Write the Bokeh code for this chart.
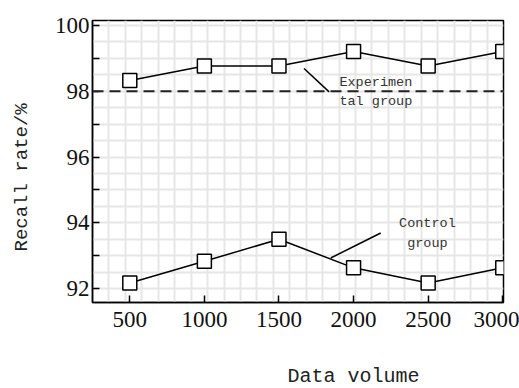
from bokeh.plotting import figure
from bokeh.models import FixedTicker, Range1d, Label, Span, Title, LinearAxis
from bokeh.embed import file_html
from bokeh.resources import INLINE
import numpy as np

# ---- data ----
data_volume = [500, 1000, 1500, 2000, 2500, 3000]
experimental_group = [98.33, 98.77, 98.77, 99.21, 98.77, 99.21]
control_group = [92.17, 92.83, 93.5, 92.63, 92.17, 92.63]
baseline_rate = 98.0
y_major_ticks = [92, 94, 96, 98, 100]
y_minor_ticks = [93, 95, 97, 99]
x_title = "Data volume"
y_title = "Recall rate/%"
exp_label = ["Experimen", "tal group"]
ctrl_label = ["Control", "group"]

X0, X1 = 250, 3005
Y0, Y1 = 91.576, 100.152

p = figure(width=519, height=388, output_backend="svg", toolbar_location=None,
           x_range=Range1d(X0, X1), y_range=Range1d(Y0, Y1),
           min_border_left=92, min_border_right=16, min_border_top=20,
           min_border_bottom=85)
p.background_fill_color = "white"
p.border_fill_color = "white"
p.outline_line_color = "black"
p.outline_line_width = 1.5

# light square grid
p.xgrid.ticker = FixedTicker(ticks=[float(v) for v in np.linspace(X0, X1, 26)[1:-1]])
p.ygrid.ticker = FixedTicker(ticks=[float(v) for v in np.arange(92, 100.01, 0.5)])
p.xgrid.grid_line_color = "#e6e6e6"
p.ygrid.grid_line_color = "#e6e6e6"
p.xgrid.grid_line_width = 2
p.ygrid.grid_line_width = 2

p.xaxis.ticker = FixedTicker(ticks=data_volume)
p.yaxis.ticker = FixedTicker(ticks=y_major_ticks, minor_ticks=y_minor_ticks)
for ax in (p.xaxis[0], p.yaxis[0]):
    ax.axis_line_color = "black"
    ax.axis_line_width = 1.5
    ax.major_tick_in = 7
    ax.major_tick_out = 0
    ax.minor_tick_in = 7
    ax.minor_tick_out = 0
    ax.major_tick_line_width = 1.5
    ax.minor_tick_line_width = 1.5
    ax.major_label_text_font = "Liberation Serif"
    ax.major_label_text_font_size = "23px"
    ax.major_label_text_color = "#111111"
p.yaxis.major_label_standoff = 3
p.xaxis.major_label_standoff = 9


def spacer(size, where):
    # a blank axis (white tick on white border, no labels, no line) that only reserves space
    return LinearAxis(ticker=FixedTicker(ticks=[where]), axis_line_color=None,
                      major_tick_line_color="white", major_tick_line_width=1,
                      minor_tick_line_color=None, major_tick_in=0, major_tick_out=size,
                      minor_tick_in=0, minor_tick_out=0, major_label_standoff=0,
                      major_label_text_color=None)


# baseline dashed line
p.add_layout(Span(location=baseline_rate, dimension="width", line_color="#222222",
                  line_width=1.8, line_dash="11 6"))

# series
for ys in (experimental_group, control_group):
    p.line(data_volume, ys, line_color="black", line_width=1.5)
    p.scatter(data_volume, ys, marker="square", size=14, fill_color="white",
              line_color="black", line_width=1.5)

# leader lines
p.line([1668, 1836], [98.69, 97.98], line_color="black", line_width=1.5)
p.line([1847, 2182], [92.93, 93.69], line_color="black", line_width=1.5)

mono = "Liberation Mono"
p.add_layout(Label(x=1905, y=98.28, text=exp_label[0], text_font=mono, text_font_size="13.5px",
                   text_align="left", text_baseline="middle", text_color="#333333"))
p.add_layout(Label(x=1905, y=97.68, text=exp_label[1], text_font=mono, text_font_size="13.5px",
                   text_align="left", text_baseline="middle", text_color="#333333"))
p.add_layout(Label(x=2495, y=93.99, text=ctrl_label[0], text_font=mono, text_font_size="13.5px",
                   text_align="center", text_baseline="middle", text_color="#333333"))
p.add_layout(Label(x=2495, y=93.38, text=ctrl_label[1], text_font=mono, text_font_size="13.5px",
                   text_align="center", text_baseline="middle", text_color="#333333"))

# axis titles (placed with spacers so they sit where the reference has them)
p.add_layout(spacer(34, (X0 + X1) / 2), "below")
p.add_layout(Title(text=x_title, align="left", offset=195, text_font=mono,
                   text_font_size="20px", text_font_style="normal", text_color="#222222",
                   standoff=0, vertical_align="middle"), "below")
p.add_layout(spacer(18, (Y0 + Y1) / 2), "left")
p.add_layout(Title(text=y_title, align="left", offset=51, text_font=mono,
                   text_font_size="19px", text_font_style="normal", text_color="#222222",
                   standoff=0, vertical_align="middle"), "left")

open("out.html", "w").write(file_html(p, INLINE))
